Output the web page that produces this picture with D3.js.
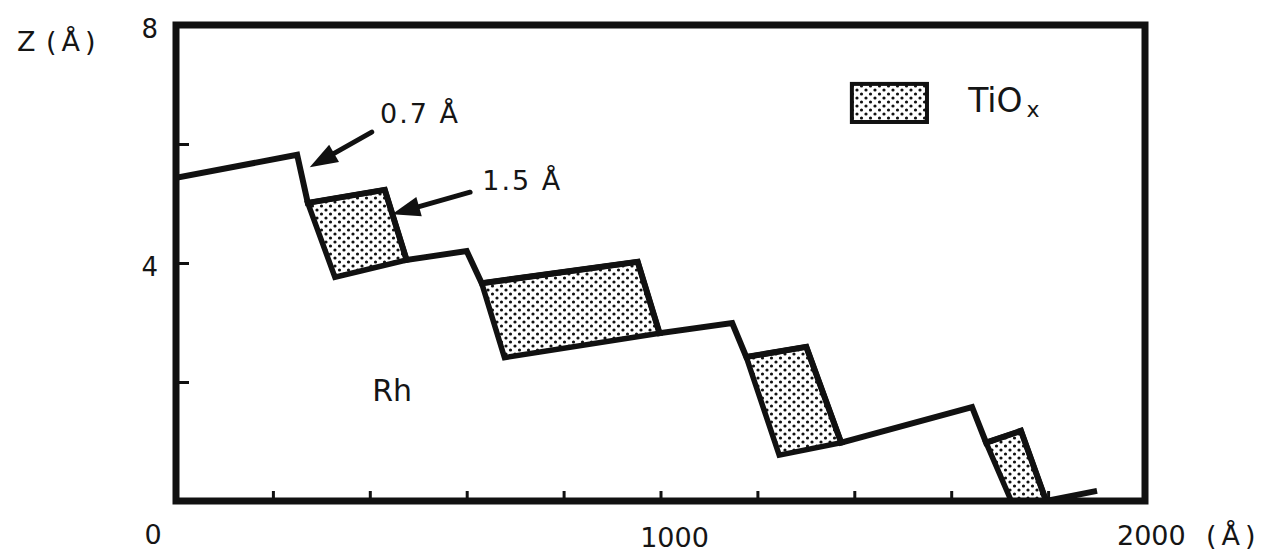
<!DOCTYPE html>
<html>
<head>
<meta charset="utf-8">
<script src="https://cdn.jsdelivr.net/npm/d3@7"></script>
<style>
  body { margin: 0; background: #fff; }
  text { font-family: "DejaVu Sans", sans-serif; fill: #151515; }
</style>
</head>
<body>
<div id="chart"></div>
<script>
// lateral position (Å) and height z (Å) of the surface profile
const surfaceX = [0, 250, 272, 431, 476, 600, 631, 953, 998, 1148, 1177, 1301, 1373, 1643, 1672, 1744, 1796, 1901];
const surfaceZ = [5.43, 5.82, 5.01, 5.23, 4.05, 4.20, 3.66, 4.02, 2.82, 2.99, 2.42, 2.59, 0.98, 1.58, 0.98, 1.18, 0.0, 0.17];

// TiOx islands, corners: top-left, top-right, bottom-right, bottom-left
const tiox1 = [[272, 5.01], [431, 5.23], [476, 4.05], [328, 3.76]];
const tiox2 = [[631, 3.66], [953, 4.02], [998, 2.82], [678, 2.41]];
const tiox3 = [[1177, 2.42], [1301, 2.59], [1373, 0.98], [1245, 0.77]];
const tiox4 = [[1672, 0.98], [1744, 1.18], [1796, 0.0], [1724, 0.0]];

const xTicks = [200, 400, 600, 800, 1000, 1200, 1400, 1600, 1800];
const yTicks = [2, 4, 6];

// annotation arrows: [tail, tip]
const arrow07 = [[404, 6.20], [276, 5.61]];
const arrow15 = [[607, 5.19], [446, 4.82]];

const width = 1276, height = 560;
const margin = { top: 25, right: 131, bottom: 59, left: 176 };

const svg = d3.select('#chart')
  .append('svg')
  .attr('width', width)
  .attr('height', height);

const x = d3.scaleLinear().domain([0, 2000]).range([margin.left, width - margin.right]);
const y = d3.scaleLinear().domain([0, 8]).range([height - margin.bottom, margin.top]);

// dotted fill
const defs = svg.append('defs');
const pat = defs.append('pattern')
  .attr('id', 'dots')
  .attr('patternUnits', 'userSpaceOnUse')
  .attr('width', 9)
  .attr('height', 8);
pat.append('rect').attr('width', 9).attr('height', 8).attr('fill', '#fff');
pat.append('circle').attr('cx', 2).attr('cy', 2).attr('r', 1.6).attr('fill', '#111');
pat.append('circle').attr('cx', 6.5).attr('cy', 6).attr('r', 1.6).attr('fill', '#111');

const clip = defs.append('clipPath').attr('id', 'plot-clip');
clip.append('rect')
  .attr('x', x(0)).attr('y', y(8))
  .attr('width', x(2000) - x(0)).attr('height', y(0) - y(8));

const plot = svg.append('g').attr('clip-path', 'url(#plot-clip)');

// islands
const poly = d3.line().x(d => x(d[0])).y(d => y(d[1])).curve(d3.curveLinearClosed);
plot.selectAll('.tiox')
  .data([tiox1, tiox2, tiox3, tiox4])
  .enter()
  .append('path')
  .classed('tiox', true)
  .attr('d', d => poly(d))
  .attr('fill', 'url(#dots)')
  .attr('stroke', '#111')
  .attr('stroke-width', 5.5)
  .attr('stroke-linejoin', 'miter');

// surface outline
const surface = surfaceX.map((d, i) => [d, surfaceZ[i]]);
plot.append('path')
  .attr('d', d3.line().x(d => x(d[0])).y(d => y(d[1]))(surface))
  .attr('fill', 'none')
  .attr('stroke', '#111')
  .attr('stroke-width', 6)
  .attr('stroke-linejoin', 'miter');

// inward ticks
const xAxis = d3.axisBottom(x).tickValues(xTicks).tickSize(-10).tickFormat('');
svg.append('g')
  .classed('x axis', true)
  .attr('transform', `translate(0,${y(0)})`)
  .call(xAxis)
  .call(g => g.select('.domain').remove())
  .selectAll('line').attr('stroke', '#111').attr('stroke-width', 3);

const yAxis = d3.axisLeft(y).tickValues(yTicks).tickSize(-13).tickFormat('');
svg.append('g')
  .classed('y axis', true)
  .attr('transform', `translate(${x(0)},0)`)
  .call(yAxis)
  .call(g => g.select('.domain').remove())
  .selectAll('line').attr('stroke', '#111').attr('stroke-width', 3);

// frame
svg.append('rect')
  .attr('x', x(0)).attr('y', y(8))
  .attr('width', x(2000) - x(0)).attr('height', y(0) - y(8))
  .attr('fill', 'none')
  .attr('stroke', '#111')
  .attr('stroke-width', 7);

// tick labels
svg.append('text').attr('x', 158).attr('y', y(8) + 13).attr('text-anchor', 'end')
  .style('font-size', '26px').text('8');
svg.append('text').attr('x', 158).attr('y', y(4) + 13).attr('text-anchor', 'end')
  .style('font-size', '26px').text('4');
svg.append('text').attr('x', x(0) - 23).attr('y', y(0) + 43).attr('text-anchor', 'middle')
  .style('font-size', '27px').text('0');
svg.append('text').attr('x', x(1000) + 14).attr('y', y(0) + 46).attr('text-anchor', 'middle')
  .style('font-size', '27px').text('1000');
svg.append('text').attr('x', x(2000) - 28).attr('y', y(0) + 44)
  .style('font-size', '27px').text('2000');
svg.append('text').attr('x', x(2000) + 61).attr('y', y(0) + 44)
  .style('font-size', '27px').style('letter-spacing', '5px').text('(Å)');

// axis title
svg.append('text').attr('x', 17).attr('y', 51).style('font-size', '27px').text('Z');
svg.append('text').attr('x', 46).attr('y', 51)
  .style('font-size', '27px').style('letter-spacing', '5px').text('(Å)');

// arrows
function drawArrow(a) {
  const x1 = x(a[0][0]), y1 = y(a[0][1]), x2 = x(a[1][0]), y2 = y(a[1][1]);
  const ang = Math.atan2(y2 - y1, x2 - x1);
  const len = 28, half = 10;
  const bx = x2 - len * Math.cos(ang), by = y2 - len * Math.sin(ang);
  svg.append('line')
    .attr('x1', x1).attr('y1', y1).attr('x2', bx).attr('y2', by)
    .attr('stroke', '#111').attr('stroke-width', 5).attr('stroke-linecap', 'round');
  svg.append('path')
    .attr('d', `M${x2},${y2}L${bx - half * Math.sin(ang)},${by + half * Math.cos(ang)}L${bx + half * Math.sin(ang)},${by - half * Math.cos(ang)}Z`)
    .attr('fill', '#111');
}
drawArrow(arrow07);
drawArrow(arrow15);

svg.append('text').attr('x', x(421)).attr('y', y(6.35))
  .style('font-size', '27px').style('letter-spacing', '2px').text('0.7 Å');
svg.append('text').attr('x', x(632)).attr('y', y(5.23))
  .style('font-size', '27px').style('letter-spacing', '2px').text('1.5 Å');
svg.append('text').attr('x', x(405)).attr('y', y(1.68))
  .style('font-size', '30px').text('Rh');

// legend
svg.append('rect')
  .attr('x', x(1395)).attr('y', y(7.01))
  .attr('width', x(1550) - x(1395)).attr('height', y(6.37) - y(7.01))
  .attr('fill', 'url(#dots)')
  .attr('stroke', '#111')
  .attr('stroke-width', 4);
const leg = svg.append('text').attr('x', x(1635)).attr('y', y(6.54))
  .style('font-size', '33px');
leg.append('tspan').text('TiO');
leg.append('tspan').attr('dx', 4).attr('dy', 5).style('font-size', '22px').text('x');
</script>
</body>
</html>
